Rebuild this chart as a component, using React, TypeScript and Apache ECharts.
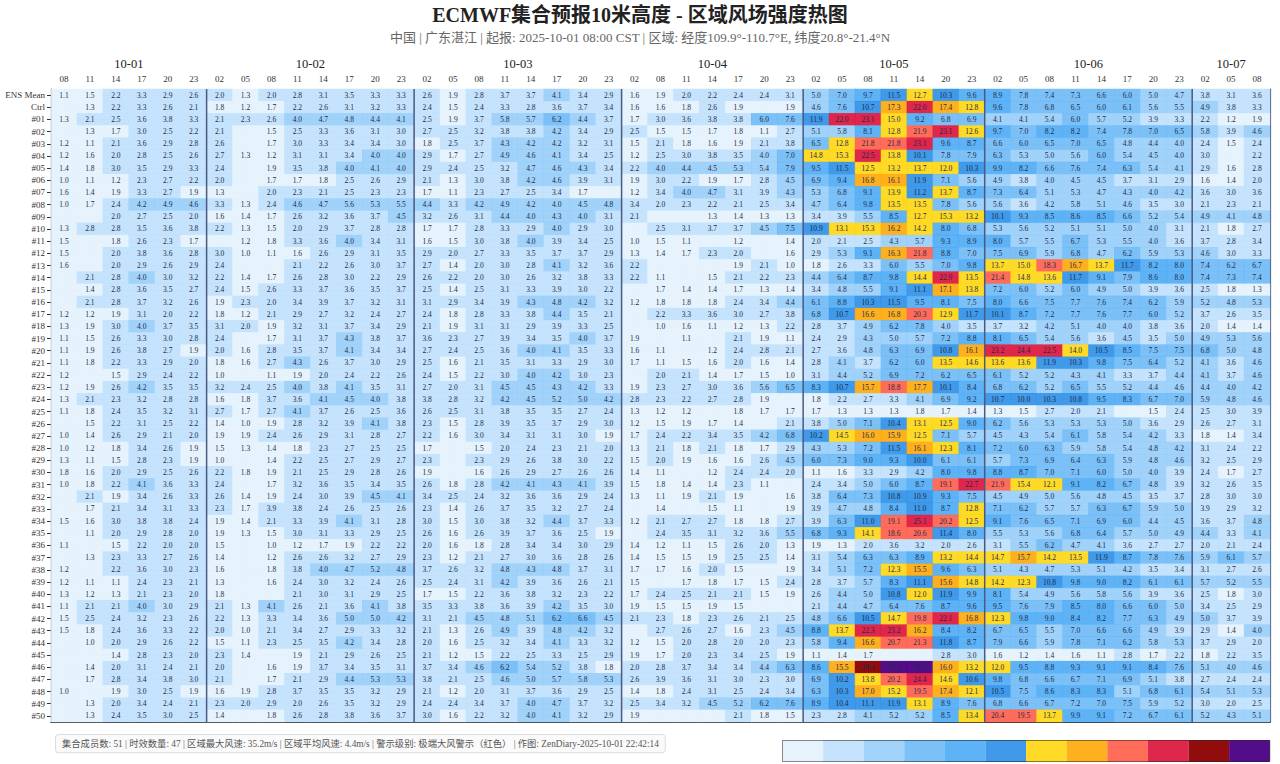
import React, { useEffect, useRef } from "react";
import * as echarts from "echarts";

const TITLE = "ECMWF集合预报10米高度 - 区域风场强度热图";
const SUBTITLE = "中国 | 广东湛江 | 起报: 2025-10-01 08:00 CST | 区域: 经度109.9°-110.7°E, 纬度20.8°-21.4°N";
const FOOTER = "集合成员数: 51 | 时效数量: 47 | 区域最大风速: 35.2m/s | 区域平均风速: 4.4m/s | 警示级别: 极端大风警示（红色） | 作图: ZenDiary-2025-10-01 22:42:14";

const DAYS = ["10-01", "10-02", "10-03", "10-04", "10-05", "10-06", "10-07"];
const HOURS_BY_DAY = [
  ["08", "11", "14", "17", "20", "23"],
  ["02", "05", "08", "11", "14", "17", "20", "23"],
  ["02", "05", "08", "11", "14", "17", "20", "23"],
  ["02", "08", "11", "14", "17", "20", "23"],
  ["02", "05", "08", "11", "14", "20", "23"],
  ["02", "05", "08", "11", "14", "17", "20", "23"],
  ["02", "05", "08"],
];

const MEMBERS = [
  "ENS Mean", "Ctrl", "#01", "#02", "#03", "#04", "#05", "#06", "#07", "#08", "#09", "#10",
  "#11", "#12", "#13", "#14", "#15", "#16", "#17", "#18", "#19", "#20", "#21", "#22", "#23",
  "#24", "#25", "#26", "#27", "#28", "#29", "#30", "#31", "#32", "#33", "#34", "#35", "#36",
  "#37", "#38", "#39", "#40", "#41", "#42", "#43", "#44", "#45", "#46", "#47", "#48", "#49", "#50",
];

// values below 1.0 m/s (no label in the picture)
const _ = 0.8;

const ENS = [1.1, 1.5, 2.2, 3.3, 2.9, 2.6, 2.0, 1.3, 2.0, 2.8, 3.1, 3.5, 3.3, 3.3, 2.6, 1.9, 2.8, 3.7, 3.7, 4.1, 3.4, 2.9, 1.6, 1.9, 2.0, 2.2, 2.4, 2.4, 3.1, 5.0, 7.0, 9.7, 11.5, 12.7, 10.3, 9.6, 8.9, 7.8, 7.4, 7.3, 6.6, 6.0, 5.0, 4.7, 3.8, 3.1, 3.6];
const CTRL = [_, 1.3, 2.2, 3.3, 2.6, 2.1, 1.8, 1.2, 1.7, 2.2, 2.6, 3.1, 3.2, 3.3, 2.4, 1.5, 2.4, 3.3, 2.8, 3.6, 3.7, 3.4, 1.6, 1.6, 1.8, 2.6, 1.9, _, 1.9, 4.6, 7.6, 10.7, 17.3, 22.0, 17.4, 12.8, 9.6, 7.8, 6.8, 6.5, 6.0, 6.1, 5.6, 5.5, 4.9, 3.8, 3.3];
const M01 = [1.3, 2.1, 2.5, 3.6, 3.8, 3.3, 2.1, 2.3, 2.6, 4.0, 4.7, 4.8, 4.4, 4.1, 2.5, 1.9, 3.7, 5.8, 5.7, 6.2, 4.4, 3.7, 1.7, 3.0, 3.6, 3.8, 3.8, 6.0, 7.6, 11.9, 22.0, 23.1, 15.0, 9.2, 6.8, 6.9, 4.1, 4.1, 5.4, 6.0, 5.7, 5.2, 3.9, 3.3, 2.2, 1.2, 1.9];
const M02 = [_, 1.3, 1.7, 3.0, 2.5, 2.2, 2.1, _, 1.5, 2.5, 3.3, 3.6, 3.1, 3.0, 2.7, 2.5, 3.2, 3.8, 3.8, 4.2, 3.4, 2.9, 2.5, 1.5, 1.5, 1.7, 1.8, 1.1, 2.7, 5.1, 5.8, 8.1, 12.8, 21.9, 23.1, 12.6, 9.7, 7.0, 8.2, 8.2, 7.4, 7.8, 7.0, 6.5, 5.8, 3.9, 4.6];
const M03 = [1.2, 1.1, 2.1, 3.6, 2.9, 2.8, 2.6, _, 1.7, 3.0, 3.3, 3.4, 3.4, 3.0, 1.8, 2.5, 3.7, 4.3, 4.2, 4.2, 3.2, 3.1, 1.5, 2.1, 1.8, 1.6, 1.9, 2.1, 3.8, 6.5, 12.8, 21.8, 21.8, 23.1, 9.6, 8.7, 6.6, 6.0, 6.5, 7.0, 6.5, 4.8, 4.4, 4.0, 2.4, 1.5, 2.4];
const M04 = [1.2, 1.6, 2.0, 2.8, 2.5, 2.6, 2.7, 1.3, 1.2, 3.1, 3.1, 3.4, 4.0, 4.0, 2.9, 1.7, 2.7, 4.9, 4.6, 4.1, 3.4, 2.5, 1.2, 2.5, 3.0, 3.8, 3.5, 4.0, 7.0, 14.8, 15.3, 22.5, 13.8, 10.1, 7.8, 7.9, 6.3, 5.3, 5.0, 5.6, 6.0, 5.4, 4.5, 4.0, 3.0, _, 2.2];
const M05 = [1.4, 1.8, 3.0, 3.5, 2.9, 3.3, 2.4, _, 1.9, 3.5, 3.8, 4.0, 4.1, 4.0, 2.9, 2.4, 2.5, 3.2, 4.7, 4.6, 4.3, 3.4, 2.2, 4.0, 4.4, 4.5, 5.3, 5.4, 7.9, 9.5, 11.5, 12.5, 13.2, 13.7, 12.0, 10.3, 9.9, 8.2, 6.6, 7.6, 7.4, 6.3, 5.4, 4.1, 2.9, 1.6, 2.8];
const M06 = [1.0, 1.1, 1.2, 2.3, 2.7, 2.2, 2.0, _, 1.7, 1.7, 1.8, 2.5, 2.6, 2.9, 2.1, 1.3, 3.0, 3.8, 4.2, 4.6, 3.9, 3.1, 1.9, 3.0, 2.2, 1.9, 1.7, 2.8, 4.5, 6.9, 9.4, 16.8, 16.1, 11.9, 7.1, 5.6, 4.9, 3.8, 4.0, 4.5, 4.5, 3.7, 3.1, 2.9, 1.6, 1.4, 2.0];
const M07 = [1.6, 1.4, 1.9, 3.3, 2.7, 1.9, 1.3, _, 2.0, 2.3, 2.1, 2.5, 2.3, 2.3, 1.7, 1.1, 2.3, 2.7, 2.5, 3.4, 1.7, _, 1.2, 3.4, 4.0, 4.7, 3.1, 3.9, 4.3, 5.3, 6.8, 9.1, 13.9, 11.2, 13.7, 8.7, 7.3, 6.4, 5.1, 5.3, 4.7, 4.3, 4.0, 4.2, 3.6, 3.0, 3.6];
const M08 = [1.0, 1.7, 2.4, 4.2, 4.9, 4.6, 3.3, 1.3, 2.4, 4.6, 4.7, 5.6, 5.3, 5.5, 4.4, 3.3, 4.2, 4.9, 4.2, 4.0, 4.5, 4.8, 3.4, 2.0, 2.3, 2.2, 2.1, 2.5, 3.4, 4.7, 6.4, 9.8, 13.5, 13.5, 7.8, 5.6, 5.6, 3.6, 4.2, 5.8, 5.1, 4.6, 3.5, 3.0, 2.1, 2.3, 2.1];
const M09 = [_, _, 2.0, 2.7, 2.5, 2.0, 1.6, 1.4, 1.7, 2.6, 3.2, 3.6, 3.7, 4.5, 3.2, 2.6, 3.1, 4.4, 4.0, 4.3, 4.0, 3.1, 2.1, _, _, 1.3, 1.4, 1.3, 1.3, 3.4, 3.9, 5.5, 8.5, 12.7, 15.3, 13.2, 10.1, 9.3, 8.5, 8.6, 8.5, 6.6, 5.2, 5.4, 4.9, 4.1, 4.8];
const M10 = [1.3, 2.8, 2.8, 3.5, 3.6, 3.8, 2.2, 1.3, 1.5, 2.0, 2.9, 3.7, 2.8, 2.8, 1.7, 1.7, 2.8, 3.3, 2.9, 4.0, 2.9, 3.0, _, 2.5, 3.1, 3.7, 3.7, 4.5, 7.5, 10.9, 13.1, 15.3, 16.2, 14.2, 8.0, 6.8, 5.3, 5.6, 5.2, 5.1, 5.1, 5.0, 4.0, 3.1, 2.1, 1.8, 2.7];
const M11 = [1.5, _, 1.8, 2.6, 2.3, 1.7, _, 1.2, 1.8, 3.3, 3.6, 4.0, 3.4, 3.1, 1.6, 1.5, 3.0, 3.8, 4.0, 3.9, 3.4, 2.5, 1.0, 1.5, 1.1, _, 1.2, _, 1.4, 2.0, 2.1, 2.5, 4.3, 5.7, 9.3, 8.9, 8.0, 5.7, 5.5, 6.7, 5.3, 5.5, 4.0, 3.6, 3.7, 2.8, 3.4];
const M12 = [1.5, _, 2.0, 3.8, 3.6, 2.8, 3.0, 1.0, 1.1, 1.6, 2.6, 2.9, 3.1, 3.5, 2.9, 2.0, 2.7, 3.3, 3.5, 3.7, 3.7, 2.9, 1.3, 1.4, 1.7, 2.3, 2.0, _, 1.6, 2.9, 5.3, 9.1, 16.3, 21.8, 8.8, 7.0, 7.5, 6.9, 5.9, 6.8, 4.7, 6.2, 5.9, 5.3, 4.6, 3.0, 3.3];
const M13 = [1.6, _, 2.0, 2.9, 2.6, 2.9, 2.4, _, _, 2.1, 2.2, 2.6, 3.0, 3.7, 2.7, 1.4, 2.0, 3.0, 2.8, 4.1, 3.2, 3.6, 2.2, _, _, _, 1.9, 2.1, 1.0, 1.8, 2.6, 3.3, 6.0, 5.5, 7.0, 9.8, 13.7, 15.0, 18.3, 16.7, 13.7, 11.7, 8.2, 8.0, 7.4, 6.2, 6.7];
const M14 = [_, 2.1, 2.8, 4.0, 3.0, 3.2, 2.2, 1.4, 1.7, 2.6, 2.8, 3.0, 2.2, 2.9, 2.6, 2.2, 2.0, 3.0, 2.6, 3.2, 3.8, 3.3, 2.2, 1.1, _, 1.5, 2.1, 2.2, 2.3, 4.4, 6.4, 8.7, 9.8, 14.4, 22.9, 13.5, 21.4, 14.8, 13.6, 11.7, 9.1, 7.9, 8.6, 8.0, 7.4, 7.3, 7.4];
const M15 = [_, 1.4, 2.8, 3.6, 3.5, 2.7, 2.4, 1.5, 2.6, 3.3, 3.7, 3.6, 3.5, 3.7, 2.5, 1.4, 2.5, 3.1, 3.3, 3.9, 3.0, 2.2, _, 1.7, 1.4, 1.4, 1.7, 1.3, 1.4, 3.4, 4.8, 5.5, 9.1, 11.1, 17.1, 13.8, 7.2, 6.0, 5.2, 6.0, 4.9, 5.0, 3.9, 3.6, 2.5, 1.8, 1.3];
const M16 = [_, 2.1, 2.8, 3.7, 3.2, 2.6, 1.9, 2.3, 2.0, 3.4, 3.9, 3.7, 3.2, 3.1, 3.1, 2.9, 3.4, 3.9, 4.3, 4.8, 4.2, 3.2, 1.2, 1.8, 1.8, 1.8, 2.4, 3.4, 4.4, 6.1, 8.8, 10.3, 11.5, 9.5, 8.1, 7.5, 8.0, 6.6, 7.5, 7.7, 7.6, 7.4, 6.2, 5.9, 5.2, 4.8, 5.3];
const M17 = [1.2, 1.2, 1.9, 3.1, 2.0, 2.2, 1.8, 1.2, 2.1, 2.9, 2.7, 3.2, 2.4, 2.7, 2.4, 1.8, 2.8, 3.3, 3.8, 4.4, 3.5, 2.1, _, 2.2, 3.3, 3.6, 3.0, 2.7, 3.8, 6.8, 10.7, 16.6, 16.8, 20.3, 12.9, 11.7, 10.1, 8.7, 7.2, 7.7, 7.6, 7.7, 6.0, 5.2, 3.7, 2.6, 3.5];
const M18 = [1.3, 1.9, 3.0, 4.0, 3.7, 3.5, 3.1, 2.0, 1.9, 3.2, 3.1, 3.7, 3.4, 2.9, 2.1, 1.9, 3.1, 3.1, 2.9, 3.9, 3.3, 2.5, _, 1.0, 1.6, 1.1, 1.2, 1.3, 2.2, 2.8, 3.7, 4.9, 6.2, 7.8, 4.0, 3.5, 3.7, 3.2, 4.2, 5.1, 4.0, 4.0, 3.8, 3.6, 2.0, 1.4, 1.4];
const M19 = [1.1, 1.5, 2.6, 3.3, 3.0, 2.8, 2.4, _, 1.7, 3.1, 3.7, 4.3, 3.8, 3.7, 3.6, 2.3, 2.7, 3.9, 3.4, 3.5, 4.0, 3.7, 1.9, _, 1.1, _, 2.1, 1.9, 1.1, 2.4, 2.9, 4.3, 5.0, 5.7, 7.2, 8.8, 8.1, 6.5, 5.4, 5.6, 3.6, 4.5, 3.5, 5.0, 4.9, 5.3, 5.6];
const M20 = [1.1, 1.9, 2.6, 3.8, 2.7, 1.9, 2.0, 1.6, 2.8, 3.5, 3.7, 4.1, 3.4, 3.4, 2.7, 2.4, 2.5, 3.6, 4.0, 4.1, 3.5, 3.3, 1.6, 1.1, _, 1.2, 2.4, 2.8, 2.1, 2.7, 3.6, 4.8, 6.3, 6.9, 10.8, 16.1, 23.2, 24.4, 22.5, 14.0, 10.5, 8.5, 7.5, 7.5, 6.8, 5.0, 4.8];
const M21 = [1.1, 1.8, 2.2, 3.3, 2.9, 2.0, 1.8, 1.6, 2.7, 4.3, 2.6, 3.7, 3.0, 2.9, 2.5, 1.6, 2.1, 3.5, 3.1, 3.3, 2.9, 3.0, 1.7, 1.1, 1.5, 1.6, 2.0, 1.6, 1.4, 2.8, 4.1, 3.7, 6.2, 6.0, 13.5, 14.6, 13.6, 13.6, 11.9, 10.3, 9.8, 7.5, 6.4, 5.2, 4.1, 3.6, 4.6];
const M22 = [1.2, _, 1.5, 2.9, 2.4, 2.2, 1.0, _, 1.1, 1.9, 2.0, 2.4, 2.2, 2.6, 2.4, 1.5, 2.2, 3.0, 4.0, 4.2, 3.0, 2.3, _, 2.0, 2.1, 1.4, 1.7, 1.5, 1.0, 3.1, 4.4, 5.2, 6.9, 7.2, 6.2, 6.5, 6.1, 5.2, 5.2, 4.3, 4.1, 3.3, 3.7, 4.4, 4.1, 3.7, 4.6];
const M23 = [1.2, 1.9, 2.6, 4.2, 3.5, 3.5, 3.2, 2.4, 2.5, 4.0, 3.8, 4.1, 3.5, 3.1, 2.7, 2.0, 3.1, 4.5, 4.5, 4.3, 4.2, 3.3, 1.9, 2.3, 2.7, 3.0, 3.6, 5.6, 6.5, 8.3, 10.7, 15.7, 18.8, 17.7, 10.1, 8.4, 6.8, 6.2, 5.2, 6.5, 5.5, 5.2, 4.4, 4.6, 4.4, 4.0, 4.2];
const M24 = [1.3, 2.1, 2.3, 3.2, 2.8, 2.8, 1.6, 1.8, 3.7, 3.6, 4.1, 4.5, 4.0, 3.8, 3.8, 2.8, 3.2, 4.2, 4.5, 5.2, 5.0, 4.2, 2.8, 2.3, 2.2, 2.7, 2.8, 1.9, _, 1.8, 2.2, 2.7, 3.3, 4.1, 6.9, 9.2, 10.7, 10.0, 10.3, 10.8, 9.5, 8.3, 6.7, 7.0, 5.9, 4.8, 4.6];
const M25 = [1.1, 1.8, 2.4, 3.5, 3.2, 3.1, 2.7, 1.7, 2.7, 4.1, 3.7, 2.6, 2.5, 3.6, 2.6, 2.5, 3.1, 3.8, 3.5, 3.5, 2.7, 2.4, 1.3, 1.2, 1.2, _, 1.8, 1.7, 1.7, 1.7, 1.3, 1.3, 1.3, 1.8, 1.7, 1.4, 1.3, 1.5, 2.7, 2.0, 2.1, _, 1.5, 2.4, 2.5, 3.0, 3.9];
const M26 = [_, 1.5, 2.2, 3.1, 2.5, 2.2, 1.4, 1.0, 1.9, 2.8, 3.2, 3.9, 4.1, 3.8, 2.3, 1.5, 2.8, 3.9, 3.5, 3.7, 2.9, 3.0, 1.2, 1.5, 1.9, 1.7, 1.4, _, 2.1, 3.8, 5.0, 7.1, 10.4, 13.1, 12.5, 9.0, 6.2, 5.6, 5.3, 5.3, 5.3, 5.0, 3.6, 2.9, 2.6, 2.7, 3.1];
const M27 = [1.0, 1.4, 2.6, 2.9, 2.1, 2.0, 1.9, 1.9, 2.4, 2.6, 2.9, 3.1, 2.8, 2.7, 2.2, 1.6, 3.0, 3.4, 3.1, 3.1, 3.0, 1.9, 1.7, 2.4, 2.2, 3.4, 3.5, 4.2, 6.8, 10.2, 14.5, 16.0, 15.9, 12.5, 7.1, 5.7, 4.5, 4.3, 5.4, 6.1, 5.8, 5.4, 4.2, 3.3, 1.8, 1.4, 3.4];
const M28 = [1.0, 1.2, 1.8, 3.4, 2.6, 1.9, 1.5, 1.3, 1.4, 1.8, 2.3, 2.7, 2.5, 2.5, 1.7, _, 1.5, 2.0, 2.4, 2.3, 2.1, 2.0, 1.3, 2.1, 1.8, 2.1, 1.8, 1.7, 2.9, 4.3, 5.3, 7.2, 11.5, 16.1, 12.3, 8.1, 7.2, 6.0, 6.3, 5.9, 5.8, 5.4, 4.8, 4.2, 3.1, 2.4, 2.2];
const M29 = [1.3, 1.1, 1.5, 2.8, 2.3, 1.9, 1.0, _, 1.4, 2.2, 2.5, 2.7, 2.9, 2.7, 2.3, _, 2.3, 2.9, 2.6, 3.8, 3.0, 2.2, 1.5, 2.0, 1.9, 1.6, 1.6, 2.6, 4.5, 6.0, 7.3, 9.0, 9.3, 10.0, 6.1, 6.1, 5.7, 7.3, 6.9, 6.4, 6.3, 5.9, 4.8, 4.6, 3.2, 2.5, 2.9];
const M30 = [1.8, 1.6, 2.0, 2.9, 2.5, 2.6, 2.2, 1.8, 1.9, 2.1, 2.5, 2.9, 2.8, 2.6, 1.9, _, 1.6, 2.6, 2.9, 2.7, 2.6, 2.6, 1.4, 1.1, _, 1.2, 2.4, 2.4, 2.0, 1.1, 1.6, 3.3, 2.9, 4.2, 8.0, 9.8, 8.8, 8.7, 7.0, 7.1, 6.0, 5.0, 4.0, 3.9, 2.4, 1.7, 2.7];
const M31 = [1.0, 1.8, 2.2, 4.1, 3.6, 3.3, 2.4, _, 1.7, 3.2, 3.6, 3.5, 3.4, 3.5, 2.6, 1.8, 2.8, 4.2, 4.1, 4.3, 4.1, 3.9, 1.5, 1.8, 1.4, 1.4, 2.3, 1.1, _, 2.4, 3.4, 5.0, 6.0, 8.7, 19.1, 22.7, 21.9, 15.4, 12.1, 9.1, 8.2, 6.7, 4.8, 3.9, 3.2, 2.6, 3.5];
const M32 = [_, 2.1, 1.9, 3.4, 2.6, 3.3, 2.6, 1.4, 1.9, 2.4, 3.0, 3.9, 4.5, 4.1, 3.4, 2.5, 2.4, 3.2, 3.6, 3.6, 2.9, 2.4, 1.3, 1.1, 1.9, 2.1, 1.9, _, 1.6, 3.8, 6.4, 7.3, 10.8, 10.9, 9.3, 7.5, 4.5, 4.9, 5.0, 5.6, 4.8, 4.5, 3.5, 3.7, 2.8, 3.0, 3.0];
const M33 = [_, 1.7, 2.1, 3.4, 3.1, 3.3, 2.3, 1.7, 3.9, 3.8, 2.4, 2.6, 2.5, 2.6, 2.3, 1.4, 2.6, 3.7, 3.5, 3.2, 2.7, 2.4, _, 1.4, _, 1.5, 1.1, _, 1.9, 3.9, 4.7, 4.8, 8.4, 11.0, 8.7, 12.8, 7.1, 6.2, 5.7, 5.7, 6.3, 6.7, 5.9, 5.0, 3.9, 2.9, 3.2];
const M34 = [1.5, 1.6, 3.0, 3.8, 3.8, 2.4, 1.9, 1.4, 2.1, 3.3, 3.9, 4.1, 3.1, 2.8, 3.0, 1.5, 3.0, 3.8, 3.2, 4.4, 3.7, 3.3, 1.2, 2.1, 2.7, 2.7, 1.8, 1.8, 2.7, 3.9, 6.3, 11.0, 19.1, 25.1, 20.2, 12.5, 9.1, 7.6, 6.5, 7.1, 6.9, 6.0, 4.4, 4.5, 3.6, 3.7, 4.8];
const M35 = [_, 1.1, 2.0, 2.9, 2.8, 2.0, 1.9, 1.3, 1.5, 3.0, 3.1, 3.3, 2.9, 2.5, 2.6, 1.6, 2.6, 3.9, 3.7, 3.6, 2.5, 1.9, _, 2.4, 3.5, 3.1, 3.2, 3.6, 5.5, 6.8, 9.3, 14.1, 18.6, 20.6, 11.4, 8.0, 5.5, 5.3, 5.6, 6.8, 6.4, 5.7, 5.0, 4.9, 4.4, 3.3, 4.1];
const M36 = [1.1, _, 1.5, 2.2, 2.0, 2.0, 1.5, _, 1.0, 1.2, 1.7, 1.9, 2.2, 2.2, 2.0, 1.6, 1.8, 2.8, 3.4, 3.4, 3.0, 2.9, 1.4, 1.2, 1.1, 1.5, 2.6, 2.0, 1.3, 1.9, 1.3, 2.0, 3.6, 3.2, 2.0, 2.6, 3.1, 5.5, 6.2, 4.7, 4.1, 3.6, 2.7, 2.7, 2.0, 2.1, 2.4];
const M37 = [_, 1.3, 2.3, 3.3, 2.7, 2.6, 1.4, _, 1.2, 2.6, 2.6, 3.2, 2.7, 2.9, 2.3, 1.2, 2.1, 2.7, 3.0, 3.6, 2.8, 2.6, 1.4, 1.5, 1.5, 1.9, 2.5, 2.5, 1.4, 3.1, 5.4, 6.3, 6.3, 8.9, 13.2, 14.4, 14.7, 15.7, 14.2, 13.5, 11.9, 8.7, 7.8, 7.6, 5.9, 6.1, 5.7];
const M38 = [1.2, _, 2.2, 3.6, 3.0, 2.3, 1.6, _, 1.8, 3.8, 4.0, 4.7, 5.2, 4.8, 3.7, 2.6, 3.2, 4.8, 4.3, 4.8, 3.7, 3.1, 1.7, 1.7, 1.6, 2.0, 1.5, _, 1.9, 3.4, 5.1, 7.2, 12.3, 15.5, 9.6, 6.3, 5.1, 4.3, 4.7, 5.3, 5.1, 4.2, 3.5, 3.4, 3.1, 2.7, 2.6];
const M39 = [1.2, 1.1, 1.1, 2.4, 2.3, 2.1, 1.3, _, 1.6, 2.4, 3.0, 3.2, 2.4, 2.6, 2.5, 2.4, 3.1, 4.2, 3.9, 3.6, 2.6, 2.1, 1.5, _, 1.7, 1.8, 1.7, 1.5, 2.4, 2.8, 3.7, 5.7, 8.3, 11.1, 15.6, 14.8, 14.2, 12.3, 10.8, 9.8, 9.0, 8.2, 6.1, 6.1, 5.7, 5.2, 5.5];
const M40 = [1.3, 1.2, 1.3, 2.1, 2.3, 2.0, 1.8, _, _, 2.1, 3.0, 3.1, 2.9, 2.5, 1.7, 1.5, 2.2, 3.6, 3.8, 3.2, 2.3, 2.2, 1.7, 2.4, 2.5, 2.1, 2.1, 1.5, 1.9, 2.6, 4.4, 5.0, 10.8, 12.0, 11.9, 9.9, 8.1, 5.4, 4.9, 5.6, 5.8, 5.6, 3.9, 3.6, 2.5, 1.8, 3.0];
const M41 = [1.1, 2.1, 2.1, 4.0, 3.0, 2.9, 2.1, 1.3, 4.1, 2.6, 2.1, 3.6, 4.1, 3.8, 3.5, 3.3, 3.8, 3.6, 3.9, 4.2, 3.5, 3.0, 1.9, 1.5, 1.5, 1.9, 1.5, _, _, 2.1, 4.4, 4.7, 6.4, 7.6, 8.7, 9.6, 9.5, 7.6, 7.9, 8.5, 8.0, 6.6, 6.0, 5.0, 3.4, 2.5, 2.9];
const M42 = [1.5, 2.5, 2.4, 3.2, 2.3, 2.6, 2.2, 1.3, 3.3, 3.4, 3.6, 5.0, 5.0, 4.2, 3.1, 2.1, 4.5, 4.8, 5.1, 6.2, 6.6, 4.5, 2.1, 2.3, 1.8, 2.3, 2.6, 2.1, 2.5, 4.8, 6.6, 10.5, 14.7, 19.8, 22.1, 16.8, 12.3, 9.8, 9.0, 8.4, 8.2, 7.7, 6.3, 4.9, 5.0, 3.7, 3.9];
const M43 = [1.5, 1.8, 2.4, 3.6, 3.3, 2.2, 2.0, 1.0, 2.1, 3.4, 2.7, 2.9, 3.3, 3.2, 2.1, 1.3, 2.6, 4.9, 3.9, 4.8, 4.2, 3.2, _, 2.7, 2.6, 2.7, 1.6, 2.3, 4.5, 8.8, 13.7, 22.3, 23.2, 16.2, 8.4, 8.2, 6.7, 6.5, 5.5, 7.0, 6.6, 6.6, 4.9, 3.9, 2.9, 1.4, 4.0];
const M44 = [_, 1.0, 2.0, 2.9, 2.6, 2.2, 1.5, 1.1, 2.3, 2.5, 3.5, 4.2, 3.4, 2.8, 2.0, 1.6, 2.5, 3.2, 3.4, 4.1, 3.3, 3.2, 1.2, 1.5, 2.0, 2.8, 2.0, 2.0, 2.3, 5.8, 9.4, 16.6, 20.7, 21.3, 11.8, 8.7, 7.9, 6.6, 5.9, 7.8, 7.1, 6.2, 5.8, 5.3, 3.7, 2.9, 2.0];
const M45 = [_, _, 1.4, 2.8, 2.3, 2.0, 2.3, 1.4, _, 1.9, 2.1, 2.9, 2.6, 2.5, 2.1, 1.2, 1.5, 2.2, 2.5, 3.3, 2.5, 2.9, 1.9, 1.7, 2.0, 2.3, 3.4, 2.5, 1.9, 1.1, 1.4, 1.7, _, _, 2.8, 3.0, 1.6, 1.2, 1.4, 1.6, 1.1, 2.8, 1.7, 2.2, 1.8, 2.2, 3.5];
const M46 = [_, 1.4, 2.0, 3.1, 2.4, 2.1, 2.0, _, 1.6, 1.9, 3.7, 3.4, 3.5, 3.1, 3.7, 3.4, 4.6, 6.2, 5.4, 5.2, 3.8, 1.8, 2.0, 2.8, 3.7, 3.4, 3.4, 4.4, 6.3, 8.6, 15.5, 28.4, 35.2, 31.6, 16.0, 13.2, 12.0, 9.5, 8.8, 9.3, 9.1, 9.1, 8.4, 7.6, 5.1, 4.0, 4.6];
const M47 = [_, 1.7, 2.8, 3.4, 3.8, 3.0, 2.1, _, 1.7, 2.1, 2.9, 4.4, 5.3, 5.3, 3.8, 2.1, 2.5, 4.6, 5.0, 5.7, 5.8, 5.3, 2.6, 3.9, 3.6, 3.1, 3.0, 2.3, 3.0, 6.9, 10.2, 13.8, 20.2, 24.4, 14.6, 10.6, 9.8, 6.8, 6.6, 6.7, 7.1, 6.9, 5.1, 3.8, 2.7, 2.4, 2.4];
const M48 = [1.0, _, 1.9, 3.0, 2.5, 1.9, 1.6, 1.9, 2.8, 3.7, 3.5, 3.5, 3.2, 2.9, 2.1, 1.2, 2.0, 3.1, 3.7, 3.6, 2.9, 2.5, 1.4, 1.8, 2.4, 3.1, 2.5, 2.4, 3.4, 6.3, 10.3, 17.0, 15.2, 19.5, 17.4, 12.1, 10.5, 7.5, 8.6, 8.3, 8.3, 5.1, 6.8, 6.1, 5.4, 5.1, 5.3];
const M49 = [_, 1.3, 2.0, 3.4, 2.4, 2.1, 2.3, 2.0, 2.9, 2.0, 2.6, 3.5, 3.2, 2.9, 2.4, 2.4, 3.4, 3.7, 4.0, 4.7, 3.7, 3.2, 2.5, 3.4, 3.2, 4.5, 5.2, 6.2, 7.6, 8.9, 10.4, 11.1, 11.9, 13.1, 8.9, 7.6, 6.8, 6.6, 6.7, 7.2, 7.0, 7.5, 5.9, 5.2, 3.0, 2.0, 2.5];
const M50 = [_, 1.3, 2.4, 3.5, 3.0, 2.5, 1.4, _, 1.8, 2.6, 2.8, 3.8, 3.6, 3.7, 3.0, 1.6, 2.2, 3.2, 4.0, 4.1, 3.2, 2.9, 1.9, _, _, _, 2.1, 1.8, 1.5, 2.3, 2.8, 4.1, 5.2, 5.2, 8.5, 13.4, 20.4, 19.5, 13.7, 9.9, 9.1, 7.2, 6.7, 6.1, 5.2, 4.3, 5.1];

const ROWS = [
  ENS, CTRL, M01, M02, M03, M04, M05, M06, M07, M08, M09, M10, M11, M12, M13, M14, M15, M16, M17,
  M18, M19, M20, M21, M22, M23, M24, M25, M26, M27, M28, M29, M30, M31, M32, M33, M34, M35, M36,
  M37, M38, M39, M40, M41, M42, M43, M44, M45, M46, M47, M48, M49, M50,
];

// colour classes (m/s)
const BIN_EDGES = [0, 2, 4, 6, 8, 10, 12, 15.45, 18, 22, 26, 30];
const BIN_COLORS = [
  "rgba(227,242,253,0.9)", "rgba(187,222,251,0.85)", "rgba(144,202,249,0.85)", "rgba(100,181,246,0.85)",
  "rgba(66,165,245,0.85)", "rgba(30,136,229,0.85)", "rgba(255,211,0,0.85)", "rgba(255,165,0,0.88)",
  "rgba(255,92,72,0.9)", "rgba(220,20,60,0.92)", "rgba(139,0,0,0.95)", "rgba(75,0,130,0.95)",
];

const SERIF = "'Liberation Serif', 'DejaVu Serif', 'Noto Sans CJK SC', serif";

export default function App() {
  const ref = useRef<HTMLDivElement>(null);

  useEffect(() => {
    document.body.style.margin = "0";
    if (!ref.current) return;
    const chart = echarts.init(ref.current, undefined, { renderer: "svg" });

    const xCats: string[] = [];
    const dayStart: number[] = [];
    HOURS_BY_DAY.forEach((hs, d) => {
      dayStart.push(xCats.length);
      hs.forEach((h) => xCats.push(DAYS[d] + " " + h));
    });
    const nX = xCats.length;
    const nY = MEMBERS.length;

    // half-cell axis used for centred grid lines and day labels
    const halfX: string[] = new Array(2 * nX + 1).fill("");
    HOURS_BY_DAY.forEach((hs, d) => {
      const s = dayStart[d];
      halfX[s + (s + hs.length)] = DAYS[d];
    });
    const halfY: string[] = new Array(2 * nY + 1).fill("");

    const boundaries = dayStart.slice(1);

    const data: number[][] = [];
    ROWS.forEach((row, r) => row.forEach((v, c) => data.push([c, r, v])));

    const pieces = BIN_EDGES.map((e, i) =>
      i < BIN_EDGES.length - 1
        ? { gte: e, lt: BIN_EDGES[i + 1], color: BIN_COLORS[i] }
        : { gte: e, color: BIN_COLORS[i] }
    );

    const option: any = {
      animation: false,
      backgroundColor: "#ffffff",
      textStyle: { fontFamily: SERIF },
      title: {
        text: TITLE,
        subtext: SUBTITLE,
        left: "center",
        top: 0,
        itemGap: 6,
        textStyle: { fontFamily: SERIF, fontSize: 20, fontWeight: "bold", color: "#222" },
        subtextStyle: {
          fontFamily: SERIF,
          fontSize: 13,
          color: "#666",
          backgroundColor: "#f1f1f1",
          borderRadius: 3,
          padding: [4, 6],
        },
      },
      grid: { left: 51, right: 10, top: 89, bottom: 42, containLabel: false },
      xAxis: [
        {
          type: "category",
          data: xCats,
          position: "top",
          gridIndex: 0,
          axisLine: { show: true, lineStyle: { color: "#333", width: 1.2 } },
          axisTick: { show: false },
          axisLabel: {
            interval: 0,
            fontFamily: SERIF,
            fontSize: 9,
            color: "#333",
            margin: 6,
            formatter: (v: string) => v.split(" ")[1],
          },
          splitLine: { show: false },
        },
        {
          type: "category",
          data: halfX,
          boundaryGap: false,
          position: "top",
          gridIndex: 0,
          axisLine: { show: false },
          axisTick: { show: false },
          axisLabel: { interval: 0, fontFamily: SERIF, fontSize: 12.5, color: "#222", margin: 19 },
          splitLine: {
            show: true,
            interval: (i: number) => i % 2 === 1,
            lineStyle: { color: "#c4c4c4", width: 0.6, type: [2, 2] },
          },
        },
        {
          type: "value",
          min: 0,
          max: nX,
          position: "bottom",
          gridIndex: 0,
          axisLine: { show: true, onZero: false, lineStyle: { color: "#333", width: 1.2 } },
          axisTick: { show: false },
          axisLabel: { show: false },
          splitLine: { show: false },
        },
      ],
      yAxis: [
        {
          type: "category",
          data: MEMBERS,
          inverse: true,
          position: "left",
          gridIndex: 0,
          axisLine: { show: true, lineStyle: { color: "#333", width: 1.2 } },
          axisTick: { show: true, alignWithLabel: true, length: 4, lineStyle: { color: "#333" } },
          axisLabel: { interval: 0, fontFamily: SERIF, fontSize: 9, color: "#333", margin: 6 },
          splitLine: { show: false },
        },
        {
          type: "category",
          data: halfY,
          boundaryGap: false,
          inverse: true,
          gridIndex: 0,
          axisLine: { show: false },
          axisTick: { show: false },
          axisLabel: { show: false },
          splitLine: {
            show: true,
            interval: (i: number) => i % 2 === 1,
            lineStyle: { color: "#c4c4c4", width: 0.6, type: [2, 2] },
          },
        },
        {
          type: "value",
          min: 0,
          max: nY,
          position: "right",
          gridIndex: 0,
          axisLine: { show: true, onZero: false, lineStyle: { color: "#4a5a80", width: 1.2 } },
          axisTick: { show: false },
          axisLabel: { show: false },
          splitLine: { show: false },
        },
      ],
      visualMap: {
        type: "piecewise",
        orient: "horizontal",
        left: 782,
        top: 740,
        itemWidth: 40.6,
        itemHeight: 21,
        itemGap: 0,
        padding: 0,
        showLabel: false,
        itemSymbol: "rect",
        selectedMode: false,
        borderColor: "#333",
        borderWidth: 1,
        seriesIndex: 0,
        dimension: 2,
        pieces,
      },
      series: [
        {
          type: "heatmap",
          xAxisIndex: 0,
          yAxisIndex: 0,
          data,
          itemStyle: { borderWidth: 0 },
          label: {
            show: true,
            fontFamily: SERIF,
            fontSize: 7.5,
            color: "#1d2b48",
            formatter: (p: any) => (p.value[2] >= 1 ? p.value[2].toFixed(1) : ""),
          },
          emphasis: { disabled: true },
          z: 2,
        },
        ...boundaries.map((b) => ({
          type: "line",
          xAxisIndex: 2,
          yAxisIndex: 2,
          data: [
            [b, 0],
            [b, nY],
          ],
          symbol: "none",
          silent: true,
          lineStyle: { color: "#4a5a80", width: 1.5 },
          z: 4,
        })),
      ],
      graphic: [
        {
          type: "text",
          left: 55,
          top: 734,
          style: {
            text: FOOTER,
            fontFamily: SERIF,
            fontSize: 9.3,
            fill: "#555",
            backgroundColor: "#fafafa",
            borderColor: "#dddddd",
            borderWidth: 1,
            borderRadius: 3,
            padding: [4, 6],
          },
        },
      ],
    };

    chart.setOption(option);
    return () => chart.dispose();
  }, []);

  return <div ref={ref} style={{ width: 1280, height: 764 }} />;
}
